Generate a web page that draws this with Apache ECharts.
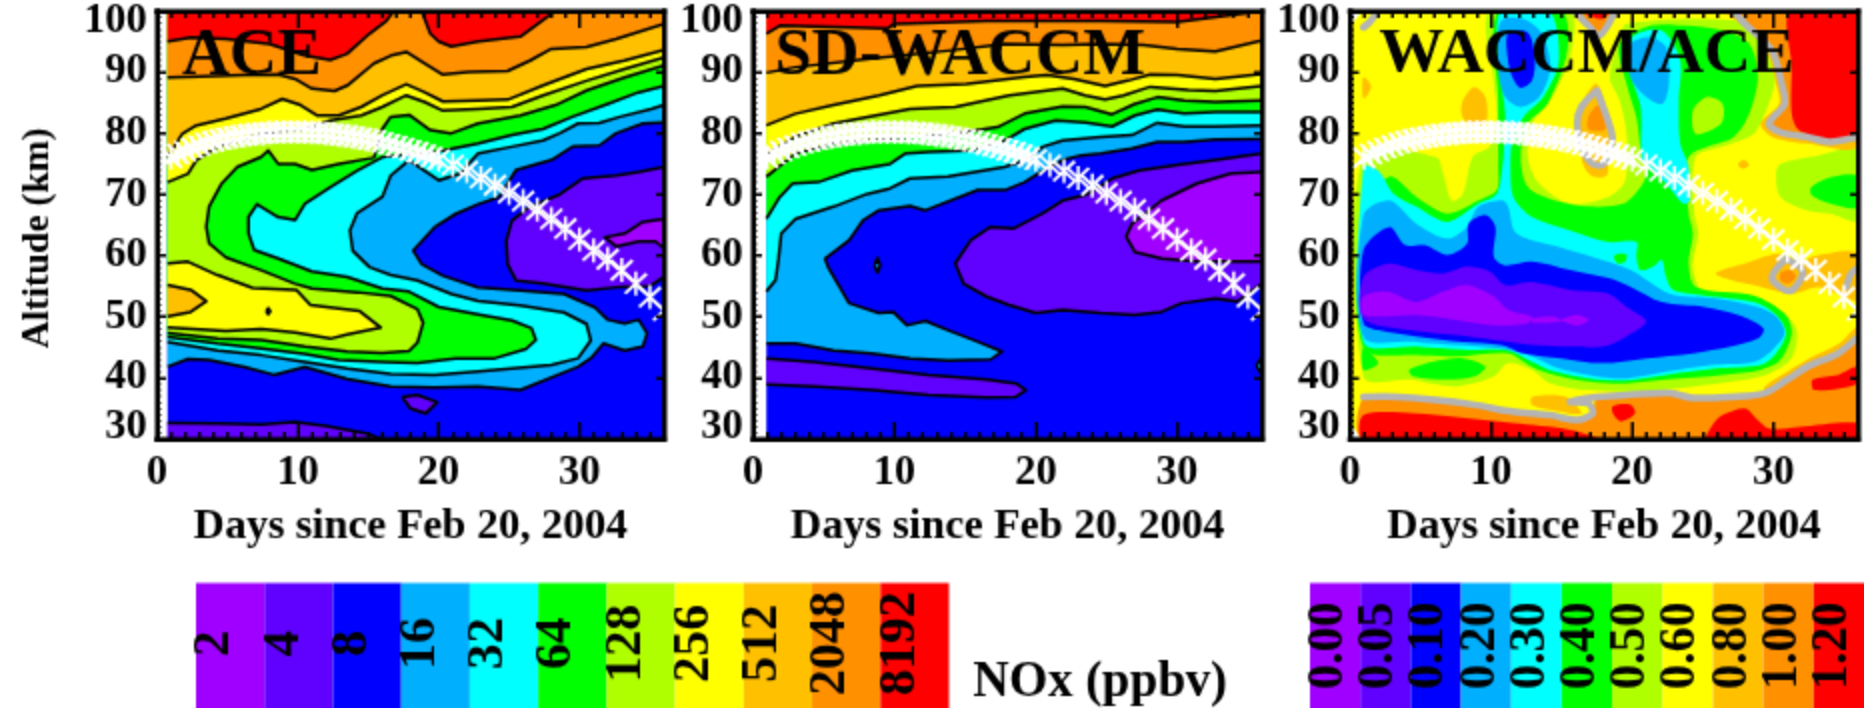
<!DOCTYPE html>
<html><head><meta charset="utf-8">
<style>html,body{margin:0;padding:0;background:#fff}#c{width:1864px;height:708px}</style>
<script src="https://cdn.jsdelivr.net/npm/echarts@6/dist/echarts.min.js"></script>
</head><body><div id="c"></div>
<script>
// ---------- level colours and legend labels ----------
const levelColors = ['#a000ff','#6000ff','#0000ff','#00b0ff','#00ffff','#00ff00','#b0ff00','#ffff00','#ffc000','#ff9000','#ff0000'];
const noxLabels = ['2','4','8','16','32','64','128','256','512','2048','8192'];
const ratioLabels = ['0.00','0.05','0.10','0.20','0.30','0.40','0.50','0.60','0.80','1.00','1.20'];
const panelTitles = ['ACE','SD-WACCM','WACCM/ACE'];
const xTicksName = 'Days since Feb 20, 2004';
const yName = 'Altitude (km)';

// ---------- terminator (occultation latitude altitude), day / km ----------
const starDays = [1,1.5,2,2.5,3,3.5,4,4.5,5,5.5,6,6.5,7,7.5,8,8.5,9,9.5,10,10.5,11,11.5,12,12.5,13,13.5,14,14.5,15,15.5,16,16.5,17,17.5,18,18.5,19,19.5,20,21,22,23,24,25,26,27,28,29,30,31,32,33,34,35,36];
const starAlts = [76,76.6,77.1,77.6,78,78.4,78.7,79,79.2,79.4,79.6,79.8,79.9,80,80.1,80.2,80.2,80.2,80.2,80.2,80.1,80.1,80,79.9,79.7,79.6,79.4,79.2,79,78.8,78.5,78.2,77.9,77.6,77.2,76.9,76.5,76.1,75.7,74.8,73.8,72.7,71.5,70.2,68.9,67.5,66,64.4,62.6,60.8,59.4,57.6,55.4,53.2,51];

// ---------- ACE contours: [day, km] ----------
const aceBase=[[0.75,30],[36,30],[36,100],[0.75,100]];
const ace3=[[0.75,100],[36,100],[36,81.8],[34.5,81.6],[32.6,80],[31.4,78],[29.5,77.8],[28,75.6],[25.5,74],[24.3,69.6],[22.8,68.4],[21.2,66.8],[19.7,64.6],[18.2,60.8],[18.8,58.6],[20.3,56.7],[22.8,54.8],[25.8,54.3],[28.9,53.7],[31.1,51.5],[32,49.5],[33.2,48.9],[34.2,49.5],[34.8,47.3],[34.5,45.1],[33.2,44.5],[31.7,45.6],[30.8,43.2],[29.9,41.8],[25.8,38],[22.8,38.6],[19.7,38.4],[16.6,38.6],[13.5,39.8],[10.5,41.8],[8.3,40.5],[6.2,41.8],[3.7,42.9],[2.2,43.1],[0.75,41.8]];
const ace4=[[0.75,100],[36,100],[36,84.6],[35.1,84],[32.9,82.7],[31.4,81.7],[29.9,81.6],[28.6,80],[27.4,78.8],[25.2,77.8],[22.8,76.7],[21.5,73.4],[20,72.3],[17.9,75.6],[16.6,73.1],[16,69.6],[14.2,66.9],[13.7,64.1],[13.9,60.8],[15.1,58.1],[16.6,56.8],[18.5,55.9],[20.9,53.7],[22.8,52.6],[25.8,51.8],[28.9,50.7],[30.5,48.8],[30.8,46.1],[29.9,43.2],[28,42.1],[25.2,41.5],[22.8,41],[19.7,40.5],[16.6,40.6],[13.5,41.5],[10.5,42.6],[7.4,43.7],[4.3,44.5],[0.75,45.9]];
const ace5=[[0.75,100],[36,100],[36,87.7],[34.2,86.7],[32,84.8],[29.5,82.7],[27.4,80.7],[25.2,79.7],[22.8,78.3],[20,77],[16,76.1],[14.2,73.9],[12.3,71.2],[10.5,68.5],[9.8,65.8],[8.6,66.3],[7.1,68.4],[6.5,66.3],[6.5,63.6],[6.9,60.9],[8.6,59.5],[11,57.4],[13.5,56.5],[16,54.6],[17.9,54.1],[20,51.6],[23,50.3],[25.2,49.4],[26.6,48.1],[26.9,46.2],[26.2,44.7],[24,43.2],[21.2,43.2],[18.5,42.4],[16,42.6],[12.9,42.9],[10.5,43.9],[7.4,44.8],[4.3,45.6],[0.75,46.7]];
const ace6=[[0.75,100],[36,100],[36,91.1],[33.2,89.1],[30.5,87],[28.3,84.6],[25.8,82.9],[22.8,81.6],[20.9,80],[19.4,80.5],[17.9,83],[16.6,82.7],[16,80.7],[15.4,76],[12.9,75],[11,74],[9.8,75],[8.6,75],[7.9,77.2],[7.4,76.1],[5.7,74.5],[4.6,71.8],[3.7,68],[3.5,64.7],[3.7,62],[4.9,59.7],[7.4,57.6],[9.8,55.4],[11,54.6],[14.2,54],[16.6,53.4],[18.5,51.2],[18.9,49],[18.5,45.8],[17.9,44.4],[16,44.1],[13.5,44.3],[10.5,45.1],[7.4,46.2],[4.3,46.4],[0.75,47.3]];
const ace7=[[0.75,100],[36,100],[36,92.4],[33.2,90.5],[30.5,88.6],[27.4,86.2],[25.2,84.3],[22.8,84],[20.3,83.7],[19,85.1],[17.7,86.2],[16,84.3],[14.5,82.9],[12.3,82.1],[10.5,80.7],[7.4,79.9],[4.3,77.8],[2.8,75.6],[2.2,73.4],[0.75,72]];
const ace7b=[[0.75,58.7],[2.2,59],[4.3,56.8],[6.8,54.7],[9.9,54.4],[10.9,51.9],[12.6,51.4],[14.4,50.9],[15.9,48.2],[13.5,47.1],[12.3,46.4],[9.8,47.4],[7.4,48],[4.9,47.7],[0.75,48.2]];
const ace8=[[0.75,100],[36,100],[36,93.6],[33.2,91.9],[30.5,90.5],[27.4,87.8],[24.9,85.5],[22.8,85.4],[20.3,85.2],[19,86.7],[17.7,88],[16,86.2],[14.5,84.3],[12.9,82.9],[11.4,82.9],[10.2,84.6],[8.9,85.6],[7.4,84],[4.9,82.4],[2.8,81.3],[1.8,79.9],[0.75,76.1]];
const ace8b=[[0.75,55.2],[2.4,54.4],[3.5,52.5],[2.4,50.8],[0.75,50]];
const ace8c=[[7.75,50.9],[7.9,51.4],[8.05,50.9],[7.9,50.4]];
const ace9=[[0.75,100],[36,100],[36,97.9],[32.6,95.4],[30.5,94.1],[28,93.8],[26.5,91.9],[24.9,90.2],[22.1,90],[20.3,89.6],[18.7,91.9],[17.7,93.3],[16.6,92.7],[15.4,91.4],[13.5,87.8],[12.6,86.9],[11,87.3],[9.8,88.9],[8.6,89.6],[6.2,89.5],[3.1,89.3],[0.75,89.1]];
const ace10a=[[0.75,100],[0.75,95],[2.4,95.7],[4.9,95.4],[8,94.6],[10.5,92.7],[12.3,92],[13.5,93],[15.1,96.3],[16.3,98.4],[16.8,100]];
const ace10b=[[18.8,100],[19.4,96.3],[20,95],[20.9,94.2],[22.8,95],[25.8,95.8],[27.1,98],[28.3,100]];
const ace1a=[[36,74.5],[34.2,73.7],[32.6,73.1],[30.2,72.6],[28.6,70],[26.4,67.9],[25.2,65.7],[24.8,62.4],[24.9,58.6],[25.5,55.9],[27.4,55.4],[30.5,54.3],[33,54.9],[35,55],[36,56.5]];
const ace0a=[[36,66],[34.5,65.5],[33.2,63.6],[31.8,63],[32.6,61.5],[34.2,62.3],[35.4,62.3],[36,61.2]];
const ace1b=[[17.4,36.9],[18.5,37.2],[19.9,36],[19.1,34.2],[18,35]];
const ace1c=[[0.75,32.6],[4.3,32.5],[7.4,32.4],[9.8,32.8],[12,32.1],[15.1,30.8],[15.8,30],[0.75,30]];

// ---------- SD-WACCM contours ----------
const sdBase=[[0.95,30],[36,30],[36,100],[0.95,100]];
const sd3=[[0.95,100],[36,100],[36,79.1],[32.7,79],[30.5,78.6],[28.6,78.6],[26.8,77.5],[24.6,76.7],[23.2,76.4],[21.9,75.6],[20.5,73.9],[19.2,72],[17.8,70.7],[15.9,70.7],[12.2,67.4],[11.1,68.1],[8.9,67.4],[7.8,65.8],[6.8,62.5],[5.1,59.5],[5.3,58.2],[6.8,52.2],[8.9,50.6],[9.9,50.8],[10.9,48.6],[12.2,49.3],[13.8,47.8],[15.9,45.9],[17.6,44.3],[16.8,43],[13.8,42.8],[11.1,43.2],[8.4,44],[5.7,44.5],[3,45.6],[0.95,45.6]];
const sd3b=[[8.6,58.4],[8.8,59.6],[9,58.4],[8.8,57.2]];
const sd3c=[[35.6,42],[36,43.4],[36,40.5]];
const sd4=[[0.95,100],[36,100],[36,81.3],[32.7,81.1],[30.5,81.1],[28.6,81.7],[26.8,79.7],[24.6,79.4],[21.9,78.8],[20.5,77.8],[19.2,75.6],[17.8,74.5],[13.8,72.9],[11.1,72.6],[9.7,71],[8.1,70.1],[5.7,68],[3,66],[2,63.6],[1.8,59.3],[1.6,56],[0.95,54.1]];
const sd5=[[0.95,100],[36,100],[36,83.5],[32.7,83.5],[30.5,83.2],[28.6,83.9],[27,82.9],[25.4,81.1],[23.5,81.8],[21.4,82.1],[19.2,80.7],[17.8,78.8],[15.4,77.2],[12.4,76.9],[10.8,76.7],[9.7,75],[7,73.9],[4.6,72],[2.8,71.8],[1.9,69.6],[0.95,66]];
const sd6=[[0.95,100],[36,100],[36,85.4],[32.7,85.1],[30.5,85.4],[28.6,85.9],[27,84.8],[25.4,83.1],[23.5,84.3],[21.9,84.4],[19.2,83.2],[17.3,81],[15.1,80.2],[11.1,79.4],[5.7,78.3],[3,76.7],[0.95,72.9]];
const sd7=[[0.95,100],[36,100],[36,87.7],[32.7,86.9],[30.8,87.1],[28.1,87.6],[26.2,86.2],[24.9,85.5],[23.5,86.2],[21.9,87.3],[18.1,86.2],[14.3,84.3],[11.1,84],[5.7,81.6],[3,79.4],[0.95,76.5]];
const sd8=[[0.95,100],[36,100],[36,89.7],[32.7,88.9],[30,89.5],[28.1,89.6],[26.5,88.6],[24.9,87.7],[22.7,88.9],[20.8,89.5],[19.2,89.2],[15.1,88.1],[11.6,87.7],[8.9,86.2],[5.7,84.6],[3,83.2],[0.95,81.3]];
const sd9=[[0.95,100],[36,100],[36,95.2],[32.7,93.4],[30,93.8],[27.6,94.4],[24.6,94.6],[21.9,94.4],[17.8,94.6],[13.8,93.5],[8.4,92.2],[3,90.8],[0.95,89.9]];
const sd10=[[0.95,100],[0.95,96.3],[1.9,97.6],[9.5,97.1],[10,97.9],[16.5,98.4],[24.6,98.4],[30,98.2],[35.5,99.8],[36,100]];
const sd1a=[[36,76.7],[32.7,75.6],[30,74.8],[27.3,73.9],[25.4,72.6],[23.5,69.9],[21.9,69],[20.5,66.9],[18.4,64.4],[16.8,64.7],[15.4,62.5],[14.3,58.7],[14.9,55.4],[16.5,53.3],[18.1,51.9],[20,50.6],[21.9,51.1],[24.6,50.6],[27,50.3],[28.9,50.8],[30.3,52.2],[32.7,53],[34.3,52.5],[36,55.4]];
const sd0a=[[36,73.7],[33.8,73.4],[31.4,71.8],[28.9,69],[26.8,65.2],[26.4,63.1],[27,60.6],[28.9,59.5],[31.4,59],[36,59]];
const sd1b=[[0.95,43.2],[4.3,42.6],[8.4,41.5],[12.4,40.5],[16.5,39.7],[18.6,39.1],[19.3,38],[18.6,36.9],[16.5,36.8],[12.4,37.2],[8.4,38],[4.3,38.6],[0.95,38.9]];

// ---------- WACCM/ACE ratio contours ----------
const rBase=[[0.95,30],[36,30],[36,100],[0.95,100]];
const rLimeMain=[[9.9,100],[15.6,100],[15.6,92.4],[14.2,85.4],[12.9,81.6],[12.6,76.1],[13.4,71.8],[15.6,68.5],[18.3,69.6],[19.5,72.3],[19.6,79.9],[19.1,85.4],[18.4,89.2],[19.1,95.2],[19.6,97.9],[27.5,98.4],[29.1,95.7],[30.1,91.9],[30.1,88.1],[29.4,83.2],[28.6,79.9],[26.4,77.8],[24.5,76.1],[24.4,66.9],[24.7,63.6],[24.3,58.2],[25.1,53.8],[28.9,52.4],[31,50],[31.7,47.3],[31.2,42.9],[29.1,40.2],[25.1,38.8],[21,37.8],[16.9,38],[14.2,39.1],[12.9,41.3],[11.2,42.4],[10.2,40.2],[7.5,38.6],[4.2,39.7],[0.95,40.2],[0.95,76.5],[6.1,76.1],[6.6,73.4],[7.2,69],[8,70.1],[8.7,76.1],[9.9,77.8],[10.4,82.7],[10.2,88.1]];
const rLimeRight=[[30.5,75],[33.2,76.4],[36,77.2],[36,65.8],[34,66.9],[32.4,67.4],[30.5,69.6],[30.2,73.4]];
const rGreenMain=[[10.5,100],[15,100],[15.4,93.5],[14,84.8],[12.6,81.6],[12.1,76.1],[12.6,71.2],[14.5,69],[16.9,68],[19.4,68.5],[20.6,71.2],[21,73.4],[20.6,77.2],[20.3,82.6],[19.6,88.1],[19.1,94.6],[21.3,97.6],[23.7,97.6],[26.4,96.8],[28.3,94.6],[28.9,89.2],[28.3,83.2],[27.2,79.4],[24,76.1],[24,66.9],[24.3,63.6],[24,58.7],[24.5,54.9],[28.6,53.5],[30.8,50.5],[31.3,47.3],[30.5,42.9],[29.1,41.3],[26.4,40.5],[22.4,39.7],[19.6,39.1],[16.9,39.4],[14.5,40.5],[12.9,41.8],[11.2,44],[7.5,43.5],[4.7,43.7],[0.95,44.9],[0.95,66.9],[2.8,72.9],[4.7,69.6],[6.9,66.9],[9.1,69],[10.4,70.7],[10.5,74.5],[10.5,79.9],[10.5,85.4]];
const rGreenRight=[[32.7,71.2],[34.3,72.9],[36,72.9],[36,67.9],[34,68.5],[32.7,69.9]];
const rGreenLow=[[4.2,41.3],[5.8,42.6],[8,43.2],[9.6,41.8],[8.8,40.2],[6.9,39.7],[4.5,40.2]];
const rGreenLeft=[[0.95,44.9],[2,42.4],[0.95,41.3]];
const rLimeInner=[[24.3,83.7],[25.3,85.9],[26.4,84.8],[26.3,81.6],[24.5,79.9]];
const rCyanMain=[[10.7,100],[14.1,100],[14.8,91.9],[13.7,85.9],[12.3,82.7],[11.5,78.8],[11.4,71.8],[11.7,69],[12.9,66.3],[15.6,64.1],[18.3,62.2],[20.3,62.2],[20.3,59.8],[20.6,57.6],[21.5,58.2],[22.1,59.3],[22.4,56.5],[22.9,54.4],[25.1,53.5],[28.6,52.4],[30.2,50.3],[30.9,47.3],[30.2,44],[29.1,42.1],[25.9,41.5],[22.4,40.5],[19.6,39.6],[16.9,39.9],[14.5,41],[12.9,42.6],[11.2,44.5],[7.9,44.6],[4.7,45.1],[0.95,45.9],[0.95,74.5],[2,73.9],[3.1,70.1],[4.7,68],[6.9,65.5],[9.1,68.5],[10.4,70.1],[10.8,74.5],[10.9,77.2],[11,83.2],[10.6,90.8]];
const rCyanTop=[[20,95.7],[22.1,96.8],[23.4,91.9],[23.3,85.4],[23.4,78.3],[24,74.5],[24.1,69],[23.6,68.5],[22.6,71.2],[21.3,74.5],[20.7,75.6],[20.6,84.3],[19.9,89.7]];
const rBlueLightMain=[[0.95,66.6],[2.8,69],[4.7,65.2],[6.9,62.8],[8.3,64.7],[9.1,68],[10.8,69],[11.2,68],[11.8,63.6],[14.8,61.4],[17.2,59.8],[19.9,57.6],[22.6,53.8],[25.9,53],[28.9,51.6],[30.2,50],[30.8,47.3],[29.9,44.5],[28.6,42.6],[25.6,42.1],[22.4,41],[19.6,39.9],[16.9,40.5],[14.5,41.8],[12.9,43.5],[10.7,44.8],[7.5,45.4],[4.7,45.9],[0.95,46.8]];
const rBlueLightTopA=[[10.7,98.4],[12.3,98.7],[13.6,96.3],[14.2,90.8],[13.4,85.9],[12.1,84.3],[11,85.9],[10.5,90.8]];
const rBlueLightTopB=[[19.9,94.6],[21.3,95.7],[22.4,94.1],[22.6,88.1],[22.1,84.8],[20.7,86.5],[19.8,89.7]];
const rBlueMain=[[0.95,60.9],[2.8,64.7],[3.9,61.7],[5.3,61.7],[6.9,60.1],[8.3,62],[8.4,65.2],[9.6,66.6],[10.3,64.7],[10.2,59.8],[11,58.4],[12.9,59],[15.6,57.6],[18.3,56.3],[19.9,54.9],[22.1,52.4],[25.1,51.6],[27.5,50.3],[29.3,48.1],[28.9,46.4],[27,45.1],[24.3,44],[21,43.2],[17.8,42.4],[15,43.2],[12.3,44],[10.7,45.4],[8,45.9],[4.7,46.8],[2,47.8],[0.95,48.9]];
const rBlueTop=[[11.2,96.3],[12.6,96.5],[13.1,92.4],[12.9,88.6],[12.1,87.4],[11.5,89.2],[11.2,91.9]];
const rLevel1=[[0.95,56.5],[2.8,58.7],[4.7,57.6],[6.6,57.1],[8.3,58.2],[9.9,57.4],[11,55.2],[12.9,55.7],[15.6,54.4],[18.3,53.8],[19.6,51.6],[21,49.2],[19.6,46.8],[18,45.1],[15.6,45.1],[12.9,45.4],[10.2,46.2],[7.5,47],[4.2,47.8],[0.95,49.7]];
const rLevel0a=[[0.95,53.3],[2.6,54.1],[4.7,52.4],[6.6,54.1],[8.3,55.2],[10.2,53.3],[11.2,51.1],[12.9,50],[12.6,48.9],[10.2,48.6],[7.5,49.5],[4.7,50.3],[0.95,50.3]];
const rLevel0b=[[15,49.5],[16.1,50.3],[16.9,49.5],[16.1,48.6]];
const rLevel0c=[[12.9,49.7],[14.5,50],[15,49.2],[12.9,49]];
const rGreenIso=[[18.7,59.8],[19.1,60.3],[19.6,60.1],[19.5,59],[19,58.7]];
const rHillMid8=[[25.9,57.1],[28,58.7],[30.5,60.3],[31.8,58.7],[32.7,59.8],[36,60.3],[36,52.7],[34.6,53.8],[33.2,54.9],[31.3,53.8],[29.1,54.9],[27,56]];
const rHillMid9=[[30.5,57.1],[31.2,57.6],[31.6,56.5],[31,55.4],[30.5,56]];
const rHillDot8=[[27.5,75],[27.9,75.6],[28.3,74.8],[27.8,74.2]];
const rHillCol8=[[8,85.4],[8.8,87.6],[9.6,85.9],[9.6,81.6],[8.3,81.6],[7.9,83.2]];
const rHillLeft8=[[0.95,89.2],[1.5,87.6],[0.95,85.7]];
const rWedge8=[[17.5,88.1],[18.4,81.6],[18.3,75.6],[18.2,73.1],[17.2,72.9],[16.5,75],[16.1,81],[16.4,84.8]];
const rWedge9=[[16.9,82.7],[17.6,84.6],[18.1,80.7],[16.9,80.7]];
const rTopV9=[[15.9,100],[16.9,97.6],[17.8,96.5],[18.8,100]];
const rTopV10=[[16.4,100],[17.2,99],[17.9,98.7],[18.4,100]];
const rTopRight8=[[26.7,100],[28.6,96.3],[29.7,92.4],[30.2,88.1],[30.4,84.8],[29.1,81.6],[29.9,79.4],[32.4,78.3],[36,78],[36,100]];
const rTopRight9=[[27.2,100],[28,97.9],[29.9,93.5],[30.6,88.1],[30.8,84.8],[29.7,81.6],[30.5,80.2],[32.4,79.4],[34,78.6],[36,79.4],[36,100]];
const rTopRight10=[[31.2,100],[31.3,90.8],[31.3,83.2],[31.8,80.5],[34,78.8],[36,79.9],[36,100]];
const rLow8a=[[12.9,36.9],[15.3,36.9],[16.4,34.2],[14.5,34.7],[12.9,35.6]];
const rLow8b=[[29.4,38.6],[31,41],[32.4,43],[34.6,45.5],[36,48.5],[36,46],[34.6,44],[32.4,41.8],[31,39.7],[29.4,37.5]];
const rLow9=[[0.95,36.9],[3.4,36.9],[6.1,36.4],[8.8,35.6],[11.5,34.5],[14.2,33.9],[16.1,33.1],[17.2,34.2],[17.5,36.9],[19.6,37.2],[22.6,37.5],[24.3,36.7],[27,36.9],[29.4,37.5],[31,39.7],[32.4,41.8],[34.6,44],[36,46.7],[36,30],[0.95,30]];
const rLow10a=[[0.95,33.9],[4.7,34.2],[7.5,33.6],[11.5,32.6],[15.6,31.5],[17.5,30],[0.95,30]];
const rLow10b=[[18.6,35.3],[19.9,35.6],[20.2,34.2],[19.2,32.9],[18.7,33.9]];
const rLow10c=[[25.3,30],[25.6,32],[26.4,33.9],[28,35],[28.9,33.1],[29.7,31.7],[31.8,32],[36,32.6],[36,30]];
const rLow10d=[[32.8,39.7],[34.6,40.5],[36,41.8],[36,39.1],[32.9,38]];
// grey 1.0 contour
const rGreyLow=[[0.95,36.9],[3.4,36.9],[6.1,36.4],[8.8,35.6],[11.5,34.5],[14.2,33.9],[16.1,33.1],[17.2,34.2],[16.9,35.8],[15.6,36.1],[17.5,36.9],[19.6,37.2],[22.6,37.5],[24.3,36.7],[27,36.9],[29.4,37.5],[31,39.7],[32.4,41.8],[34.6,44],[36,46.7]];
const rGreyTopRight=[[27.2,100],[28,97.9],[29.9,93.5],[30.6,88.1],[30.8,84.8],[29.7,81.6],[30.5,80.2],[32.4,79.4],[34,78.6],[36,79.4]];
const rGreyV=[[15.9,100],[16.9,97.6],[17.7,96],[18.8,100]];
const rGreyCorner=[[0.95,97.3],[1.4,98.2],[2,100]];
const rGreyWedge=[[17.5,87],[18.4,81.3],[18.6,78.8],[18,75],[17.2,75],[16.4,77.8],[16.1,81.6],[16.4,84.3],[17.5,87]];
const rGreyRing=[[30.9,59.5],[32.1,57.4],[31.2,54.2],[29.9,56.3],[30.9,59.5]];
const rGreyEdge=[[35.2,54.9],[35.5,57],[36,58]];

// ---------- painter order: [level, contour] ----------
const aceLayers=[[2,aceBase],[3,ace3],[4,ace4],[5,ace5],[6,ace6],[7,ace7],[7,ace7b],[8,ace8],[8,ace8b],[8,ace8c],[9,ace9],[10,ace10a],[10,ace10b],[1,ace1a],[0,ace0a],[1,ace1b],[1,ace1c]];
const sdLayers=[[2,sdBase],[3,sd3],[3,sd3b],[3,sd3c],[4,sd4],[5,sd5],[6,sd6],[7,sd7],[8,sd8],[9,sd9],[10,sd10],[1,sd1a],[0,sd0a],[1,sd1b]];
const ratioLayers=[[7,rBase],[6,rLimeMain],[6,rLimeRight],[5,rGreenMain],[5,rGreenRight],[5,rGreenLow],[5,rGreenLeft],[6,rLimeInner],[4,rCyanMain],[4,rCyanTop],[3,rBlueLightMain],[3,rBlueLightTopA],[3,rBlueLightTopB],[2,rBlueMain],[2,rBlueTop],[1,rLevel1],[0,rLevel0a],[0,rLevel0b],[0,rLevel0c],[5,rGreenIso],[8,rHillMid8],[9,rHillMid9],[8,rHillDot8],[8,rHillCol8],[8,rHillLeft8],[8,rWedge8],[9,rWedge9],[9,rTopV9],[10,rTopV10],[8,rTopRight8],[9,rTopRight9],[10,rTopRight10],[8,rLow8a],[8,rLow8b],[9,rLow9],[10,rLow10a],[10,rLow10b],[10,rLow10c],[10,rLow10d],['g',rGreyLow],['g',rGreyTopRight],['g',rGreyV],['g',rGreyCorner],['g',rGreyWedge],['g',rGreyRing],['g',rGreyEdge]];

// ---------- layout ----------
const FONT='"Liberation Serif"';
const panels=[{left:157,width:507,d0:0.75,layers:aceLayers,stroke:true,titleLeft:182,titleSize:66},
              {left:753,width:509,d0:0.95,layers:sdLayers,stroke:true,titleLeft:775,titleSize:66},
              {left:1350,width:508,d0:0.95,layers:ratioLayers,stroke:false,titleLeft:1379,titleSize:65}];
const TOP=11,HEIGHT=428;

function makeRender(p){
  return function(params,api){
    const [lvl,pts]=p.layers[params.dataIndex];
    const c=pts.map(q=>api.coord(q));
    if(lvl==='g'){
      return {type:'polyline',shape:{points:c,smooth:0.3},style:{fill:null,stroke:'#b4b4b4',lineWidth:7,lineJoin:'round',lineCap:'round'}};
    }
    const children=[{type:'polygon',shape:{points:c,smooth:p.stroke?0:0.3},style:{fill:levelColors[lvl],stroke:null}}];
    if(p.stroke){
      const onEdge=(a,b)=>(a[0]<=p.d0&&b[0]<=p.d0)||(a[0]>=36&&b[0]>=36)||(a[1]>=100&&b[1]>=100)||(a[1]<=30&&b[1]<=30);
      let run=[];
      for(let i=0;i<=pts.length;i++){
        const a=pts[i%pts.length],prev=i?pts[i-1]:null;
        if(prev&&onEdge(prev,a)){
          if(run.length>1)children.push({type:'polyline',shape:{points:run.map(q=>api.coord(q))},style:{fill:null,stroke:'#000',lineWidth:3,lineJoin:'round'}});
          run=[];
        }
        run.push(a);
      }
      if(run.length>1)children.push({type:'polyline',shape:{points:run.map(q=>api.coord(q))},style:{fill:null,stroke:'#000',lineWidth:3,lineJoin:'round'}});
    }
    return {type:'group',children};
  };
}

const STAR='path://M44 0L56 0L56 100L44 100ZM13 4L96 87L87 96L4 13ZM87 4L96 13L13 96L4 87Z';
const labelStyle={fontFamily:FONT,fontWeight:'bold',fontSize:42,color:'#000'};
const grid=[],xAxis=[],yAxis=[],series=[],title=[];
const line={lineStyle:{color:'#000',width:5,cap:'square'},onZero:false};

panels.forEach((p,i)=>{
  grid.push({left:p.left,top:TOP,width:p.width,height:HEIGHT});
  const xi=xAxis.length, yi=yAxis.length;
  xAxis.push({type:'value',gridIndex:i,min:0,max:36,interval:10,position:'bottom',z:10,
    axisLine:{show:true,...line},axisTick:{show:true,inside:true,length:17,lineStyle:{color:'#000',width:3}},
    splitLine:{show:false},
    axisLabel:{...labelStyle,margin:14,showMaxLabel:false,formatter:v=>v===36?'':String(v)},
    name:xTicksName,nameLocation:'middle',nameGap:66,nameTextStyle:{...labelStyle,fontSize:43}});
  xAxis.push({type:'value',gridIndex:i,min:0,max:36,interval:10,position:'top',z:10,
    axisLine:{show:true,...line},axisTick:{show:true,inside:true,length:17,lineStyle:{color:'#000',width:3}},
    splitLine:{show:false},axisLabel:{show:false}});
  ['bottom','top'].forEach(pos=>xAxis.push({type:'value',gridIndex:i,min:0,max:36,interval:1,position:pos,z:10,
    axisLine:{show:false,onZero:false},axisTick:{show:true,inside:true,length:7,lineStyle:{color:'#000',width:3}},
    splitLine:{show:false},axisLabel:{show:false}}));
  yAxis.push({type:'value',gridIndex:i,min:30,max:100,interval:10,position:'left',z:10,
    axisLine:{show:true,...line},axisTick:{show:true,inside:true,length:9,lineStyle:{color:'#000',width:3}},
    minorTick:{show:true,splitNumber:10,length:4,lineStyle:{color:'#000',width:2}},
    splitLine:{show:false},minorSplitLine:{show:false},
    axisLabel:{...labelStyle,margin:10,lineHeight:22,showMinLabel:true,showMaxLabel:true,hideOverlap:false,verticalAlignMinLabel:'bottom',verticalAlignMaxLabel:'top'},
    ...(i===0?{name:yName,nameLocation:'middle',nameRotate:90,nameGap:100,nameTextStyle:{...labelStyle,fontSize:38,padding:[0,26,0,0]}}:{})});
  yAxis.push({type:'value',gridIndex:i,min:30,max:100,interval:10,position:'right',z:10,
    axisLine:{show:true,...line},axisTick:{show:true,inside:true,length:8,lineStyle:{color:'#000',width:3}},
    splitLine:{show:false},axisLabel:{show:false}});
  series.push({type:'custom',xAxisIndex:xi,yAxisIndex:yi,clip:true,z:2,silent:true,
    renderItem:makeRender(p),data:p.layers.map((_,k)=>[k,0]),animation:false});
  series.push({type:'scatter',xAxisIndex:xi,yAxisIndex:yi,z:3,silent:true,symbol:STAR,symbolSize:24,
    itemStyle:{color:'#fff',opacity:1},data:starDays.map((d,k)=>[d,starAlts[k]]),animation:false});
  title.push({text:panelTitles[i],left:p.titleLeft,top:23,z:20,textStyle:{fontFamily:FONT,fontWeight:'bold',fontSize:p.titleSize,color:'#000'},padding:0});
});

// legends as bars; the rotated label's offset is along [text direction, across text]
function legendBars(labels,left,width,along,across,size){
  const gi=grid.length;
  grid.push({left,top:583,width,height:125});
  xAxis.push({type:'category',gridIndex:gi,data:labels,show:false});
  yAxis.push({type:'value',gridIndex:gi,min:0,max:1,show:false});
  series.push({type:'bar',xAxisIndex:xAxis.length-1,yAxisIndex:yAxis.length-1,barWidth:'100%',barCategoryGap:0,silent:true,animation:false,
    data:labels.map((_,k)=>({value:1,itemStyle:{color:levelColors[k]}})),
    label:{show:true,position:'inside',rotate:90,offset:[along,across],formatter:'{b}',fontFamily:FONT,fontWeight:'bold',fontSize:size,color:'#000'}});
}
legendBars(noxLabels,196,753,2,-15,52);
legendBars(ratioLabels,1310,554,0,-6,50);
title.push({text:'NOx (ppbv)',left:973,top:659,textStyle:{fontFamily:FONT,fontWeight:'bold',fontSize:50,color:'#000'},padding:0});

// the reference is a soft, low-resolution raster: draw at half resolution
const chart=echarts.init(document.getElementById('c'),null,{renderer:'canvas',devicePixelRatio:0.5});
chart.setOption({animation:false,backgroundColor:'#fff',grid,xAxis,yAxis,series,title});
</script></body></html>
